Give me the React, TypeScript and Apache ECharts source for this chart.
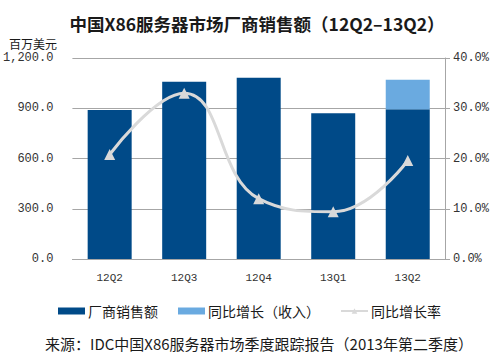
import React, { useEffect, useRef } from "react";
import * as echarts from "echarts";

const categories = ["12Q2", "12Q3", "12Q4", "13Q1", "13Q2"];
const salesValues = [890, 1058, 1082, 870, 894];
const growthRevenue = [null, null, null, null, 176];
const growthRate = [20.8, 33.0, 12.0, 9.4, 19.6];
const leftTicks = [0, 300, 600, 900, 1200];
const rightTicks = [0, 10, 20, 30, 40];

const DARK = "#004a88";
const LIGHT = "#6aaae0";
const LINE = "#d9d9d9";
const MONO = "'Liberation Mono', 'DejaVu Sans Mono', monospace";
const CJK = "'Noto Sans CJK SC', 'Noto Sans', sans-serif";

export default function App() {
  const ref = useRef<HTMLDivElement>(null);
  useEffect(() => {
    if (!ref.current) return;
    const chart = echarts.init(ref.current, undefined, { renderer: "svg" });
    chart.setOption({
      animation: false,
      backgroundColor: "#ffffff",
      title: [
        {
          text: "中国X86服务器市场厂商销售额（12Q2–13Q2）",
          left: 252,
          textAlign: "center",
          top: 10,
          textStyle: { fontFamily: CJK, fontSize: 17.5, fontWeight: "bold", color: "#1a1a1a" },
        },
        {
          text: "百万美元",
          left: 4,
          top: 32,
          textStyle: { fontFamily: CJK, fontSize: 12, fontWeight: "normal", color: "#1a1a1a" },
        },
        {
          text: "来源：IDC中国X86服务器市场季度跟踪报告（2013年第二季度）",
          left: 254,
          textAlign: "center",
          top: 331,
          textStyle: { fontFamily: CJK, fontSize: 15, fontWeight: "normal", color: "#1a1a1a" },
        },
      ],
      legend: {
        left: 53,
        top: 299,
        itemWidth: 27,
        itemHeight: 7,
        itemGap: 20,
        textStyle: { fontFamily: CJK, fontSize: 14, color: "#1a1a1a", padding: [0, 0, 0, -2] },
        data: [
          { name: "厂商销售额", icon: "rect" },
          { name: "同比增长（收入）", icon: "rect" },
          { name: "同比增长率" },
        ],
      },
      grid: { left: 71, right: 55, top: 58, bottom: 96 },
      xAxis: {
        type: "category",
        data: categories,
        axisLine: { show: true, lineStyle: { color: "#a6a6a6", width: 1 } },
        axisTick: { show: false },
        axisLabel: { fontFamily: MONO, fontSize: 11, color: "#333", margin: 13 },
      },
      yAxis: [
        {
          type: "value",
          min: leftTicks[0],
          max: leftTicks[leftTicks.length - 1],
          interval: 300,
          axisLine: { show: false },
          axisTick: { show: false },
          splitLine: { show: true, lineStyle: { color: "#a6a6a6", width: 1 } },
          axisLabel: {
            fontFamily: MONO,
            fontSize: 12,
            color: "#333",
            margin: 19,
            formatter: (v: number) =>
              v.toLocaleString("en-US", { minimumFractionDigits: 1, maximumFractionDigits: 1 }),
          },
        },
        {
          type: "value",
          min: rightTicks[0],
          max: rightTicks[rightTicks.length - 1],
          interval: 10,
          position: "right",
          axisLine: { show: true, lineStyle: { color: "#a6a6a6", width: 1 } },
          axisTick: { show: true, length: 5, lineStyle: { color: "#a6a6a6" } },
          splitLine: { show: false },
          axisLabel: {
            fontFamily: MONO,
            fontSize: 12,
            color: "#333",
            margin: 8,
            formatter: (v: number) => v.toFixed(1) + "%",
          },
        },
      ],
      series: [
        {
          name: "厂商销售额",
          type: "bar",
          stack: "sales",
          data: salesValues,
          barWidth: 44,
          itemStyle: { color: DARK },
        },
        {
          name: "同比增长（收入）",
          type: "bar",
          stack: "sales",
          data: growthRevenue,
          barWidth: 44,
          itemStyle: { color: LIGHT },
        },
        {
          name: "同比增长率",
          type: "line",
          yAxisIndex: 1,
          data: growthRate,
          smooth: 0.45,
          smoothConstraint: false,
          symbol: "triangle",
          symbolSize: 11,
          lineStyle: { color: LINE, width: 3 },
          itemStyle: { color: LINE },
        },
      ],
    });
    return () => chart.dispose();
  }, []);
  return (
    <div
      ref={ref}
      style={{ position: "fixed", left: 0, top: 0, width: 500, height: 355 }}
    />
  );
}
